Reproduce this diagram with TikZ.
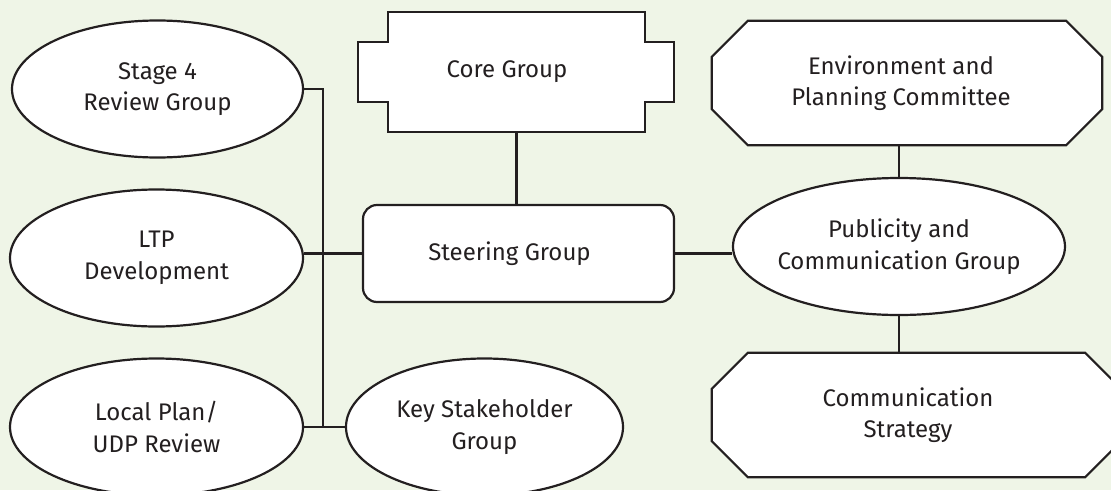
\documentclass[tikz,border=0pt]{standalone}
\usepackage{fontspec}
\setmainfont{Fira Sans}
\usetikzlibrary{shapes.geometric,calc}
\definecolor{paper}{RGB}{239,245,231}
\definecolor{ink}{RGB}{35,31,32}
\begin{document}
\begin{tikzpicture}[x=1pt,y=-1pt,
  lbl/.style={font=\fontsize{24}{31.5}\selectfont, text=ink, align=center, inner sep=0pt},
  oval/.style 2 args={draw=ink, line width=2.2pt, fill=white, ellipse, inner sep=0pt,
                      minimum width=#1, minimum height=#2},
  frame/.style 2 args={draw=none, inner sep=0pt, minimum width=#1, minimum height=#2},
  outline/.style={draw=ink, line width=2.2pt, fill=white, line join=miter},
  link/.style={draw=ink, line width=2.2pt}]
  % page
  \fill[paper] (0,0) rectangle (1111,490);
  \useasboundingbox (0,0) rectangle (1111,490);
  \begin{scope}
  \clip (0,0) rectangle (1111,490);

  \coordinate (busTop) at (323,89);
  \coordinate (busBot) at (323,427);

  % oval groups
  \node[oval={291pt}{137pt}] (stage) at (157.5,89) {};
  \node[oval={293pt}{137pt}] (ltp)   at (156.5,258) {};
  \node[oval={293pt}{137pt}] (local) at (156.5,427) {};
  \node[oval={277pt}{137pt}] (key)   at (484.5,427) {};
  \node[oval={332pt}{137pt}] (pub)   at (899,246.5) {};

  % frames of the boxed groups
  \node[frame={257pt}{120pt}] (core)  at (516.5,72) {};
  \node[draw=ink, line width=2.2pt, fill=white, rounded corners=14pt,
        minimum width=311pt, minimum height=97pt] (steer) at (518.5,253.5) {};
  \node[frame={390pt}{124pt}] (env)  at (907,83) {};
  \node[frame={409pt}{124pt}] (comm) at (916.5,415) {};

  % Core Group: box with side tabs
  \draw[outline] (core.north west) -- (core.north east) -- ($(core.north east)+(0,30)$)
    -- ++(29,0) -- ++(0,60) -- ++(-29,0) -- (core.south east) -- (core.south west)
    -- ++(0,-30) -- ++(-30,0) -- ++(0,-60) -- ++(30,0) -- cycle;
  % octagons
  \foreach \o in {env,comm}{
    \draw[outline] ($(\o.north west)+(36,0)$) -- ($(\o.north east)+(-36,0)$)
      -- ($(\o.north east)+(0,36)$) -- ($(\o.south east)+(0,-36)$)
      -- ($(\o.south east)+(-36,0)$) -- ($(\o.south west)+(36,0)$)
      -- ($(\o.south west)+(0,-36)$) -- ($(\o.north west)+(0,36)$) -- cycle;
  }

  % connectors
  \draw[link] (stage.east) -- (busTop) -- (busBot);
  \draw[link] (steer.west) -- (steer.west -| ltp.east);
  \draw[link] (local.east) -- (key.west);
  \draw[link] (core.south) -- (core.south |- steer.north);
  \draw[link] (steer.east) -- (steer.east -| pub.west);
  \draw[link] (pub.north) -- (pub.north |- env.south);
  \draw[link] (pub.south) -- (pub.south |- comm.north);

  % labels
  \node[lbl] at (stage) {Stage 4\\Review Group};
  \node[lbl] at (ltp) {LTP\\Development};
  \node[lbl] at (local) {Local Plan/\\UDP Review};
  \node[lbl] at (key) {Key Stakeholder\\Group};
  \node[lbl] at (pub) {Publicity and\\Communication Group};
  \node[lbl, xshift=-9.5pt] at (core) {Core Group};
  \node[lbl, xshift=-9pt] at (steer) {Steering Group};
  \node[lbl, xshift=-6pt] at (env) {Environment and\\Planning Committee};
  \node[lbl, xshift=-8.5pt] at (comm) {Communication\\Strategy};
  \end{scope}
\end{tikzpicture}
\end{document}
